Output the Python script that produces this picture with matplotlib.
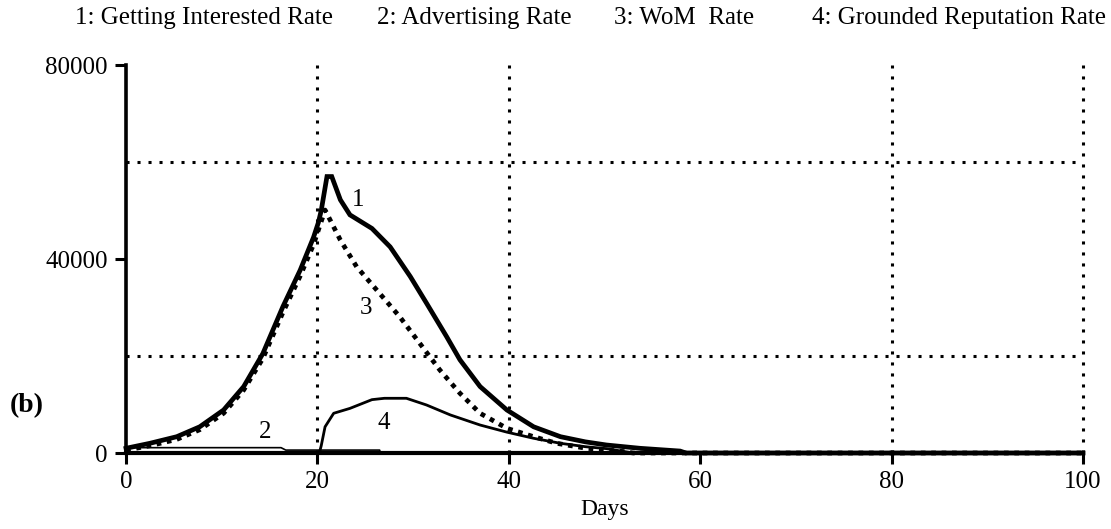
import matplotlib
matplotlib.use("Agg")
import matplotlib.pyplot as plt

# Simulation output (rates per day)
days_interest = [0, 2.5, 5.3, 7.7, 10.2, 12.3, 14.3, 16.4, 18.2, 19.6, 20.1, 20.4, 20.7, 21.0, 21.5,
                 22.4, 23.4, 25.7, 27.6, 29.7, 31.4, 33.5, 34.9, 37.0, 39.8, 42.6, 45.4,
                 48.0, 50.2, 53.7, 57.9, 58.5, 100]
rate_interest = [970, 2000, 3360, 5400, 8870, 13700, 20500, 30200, 37700, 44500, 47500, 50000,
                 53500, 57000, 57000, 52200, 49100, 46300, 42500, 36400, 30900, 24000, 19200, 13700,
                 8870, 5400, 3360, 2300, 1650, 970, 400, 0, 0]

days_advert = [0, 16.2, 16.7, 26.5, 26.6, 100]
rate_advert = [1100, 1100, 600, 600, 0, 0]

days_wom = [0, 2.5, 5.3, 7.7, 10.2, 12.3, 14.3, 16.4, 18.2, 19.6, 20.8, 22.4, 24.1, 26.2,
            28.6, 30.7, 32.8, 34.9, 37.0, 39.8, 42.6, 45.0, 48.0, 52.0, 53.0, 100]
rate_wom = [600, 1500, 2800, 4800, 8200, 13000, 19500, 29000, 36500, 43000, 50100, 43900,
            38400, 33600, 28100, 22600, 17100, 12300, 8190, 5090, 3360, 2000, 1000, 300, 0, 0]

days_grounded = [0, 20.2, 20.4, 20.8, 21.7, 23.4, 25.7, 27.0, 29.3, 31.4, 33.9, 37.0, 39.8,
                 42.6, 45.4, 48.0, 50.2, 53.0, 100]
rate_grounded = [0, 0, 1500, 5400, 8190, 9200, 11000, 11280, 11280, 9900, 7840, 5770, 4300,
                 3030, 2000, 1300, 900, 0, 0]

legend_labels = ["1: Getting Interested Rate", "2: Advertising Rate", "3: WoM  Rate",
                 "4: Grounded Reputation Rate"]
legend_x = [75, 377, 614, 812]
x_ticks = [0, 20, 40, 60, 80, 100]
y_ticks = [0, 40000, 80000]
x_grid = [20, 40, 80, 100]
y_grid = [20000, 60000]

plt.rcParams["font.family"] = ["Liberation Serif", "DejaVu Serif"]

W, H = 1111, 529
fig = plt.figure(figsize=(W / 100, H / 100), dpi=100)
ax = fig.add_axes([126 / W, 1 - 453 / H, (1083 - 126) / W, (453 - 65) / H])
ax.set_xlim(0, 100)
ax.set_ylim(0, 80000)

grid_style = dict(color="black", linewidth=2.2, linestyle=(0, (1, 2.6)), zorder=1, clip_on=False)
for gx in x_grid:
    ax.axvline(gx, **grid_style)
for gy in y_grid:
    ax.axhline(gy, **grid_style)

ax.plot(days_interest, rate_interest, color="black", linewidth=3.4, zorder=4,
        solid_joinstyle="miter", clip_on=False)
ax.plot(days_advert, rate_advert, color="black", linewidth=1.2, zorder=3, clip_on=False)
ax.plot(days_wom, rate_wom, color="black", linewidth=3.4, linestyle=(0, (1, 1.2)),
        zorder=3, clip_on=False)
ax.plot(days_grounded, rate_grounded, color="black", linewidth=2.0, zorder=3, clip_on=False)

# curve numbers
ax.text(24.3, 52200, "1", fontsize=18, ha="center", va="center")
ax.text(14.5, 4400, "2", fontsize=18, ha="center", va="center")
ax.text(25.1, 29800, "3", fontsize=18, ha="center", va="center")
ax.text(26.9, 6100, "4", fontsize=18, ha="center", va="center")

for side in ["top", "right"]:
    ax.spines[side].set_visible(False)
ax.spines["left"].set_linewidth(2.6)
ax.spines["bottom"].set_linewidth(3.0)

ax.set_xticks(x_ticks)
ax.set_xticklabels([str(t) for t in x_ticks])
ax.set_yticks(y_ticks)
ax.set_yticklabels([str(t) for t in y_ticks])
ax.tick_params(axis="both", direction="out", length=8, width=2.2, labelsize=18, pad=5)

ax.set_xlabel("Days", fontsize=17, labelpad=4)

for lx, lab in zip(legend_x, legend_labels):
    fig.text(lx / W, 1 - 18 / H, lab, fontsize=18, ha="left", va="center")

fig.text(10 / W, 1 - 406 / H, "(b)", fontsize=20, fontweight="bold", ha="left", va="center")

fig.savefig("out.png", dpi=100)
